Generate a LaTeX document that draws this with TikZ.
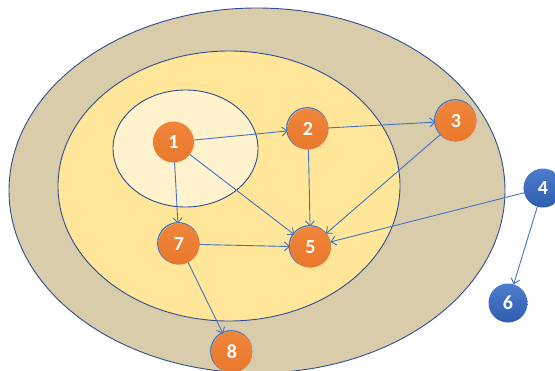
\documentclass[tikz,border=0pt]{standalone}
\usepackage{fontspec}
\setmainfont{Carlito}
\usetikzlibrary{arrows.meta}
\definecolor{outerfill}{HTML}{D9CCAB}
\definecolor{midfill}{HTML}{FFE699}
\definecolor{innerfill}{HTML}{FFF2CC}
\definecolor{rim}{HTML}{2F4D8F}
\definecolor{edgeblue}{HTML}{4472C4}
\definecolor{orangeA}{HTML}{F08539}
\definecolor{orangeB}{HTML}{E8782C}
\definecolor{blueA}{HTML}{4D7DD0}
\definecolor{blueB}{HTML}{2F5DAE}
\tikzset{
  region/.style={draw=rim, line width=0.9pt},
  basenode/.style={circle, minimum size=41pt, inner sep=0pt, outer sep=0pt,
    text=white, font=\fontsize{20}{20}\selectfont\bfseries},
  orangenode/.style={basenode, top color=orangeA, bottom color=orangeB},
  rimmed/.style={orangenode, preaction={draw=edgeblue, line width=1.2pt, transform canvas={shift={(-0.8pt,0.8pt)}}}},
  bluenode/.style={basenode, minimum size=39pt, top color=blueA, bottom color=blueB},
  link/.style={draw=edgeblue, line width=0.9pt, -{Straight Barb[length=5pt,width=9pt]}}
}
\begin{document}
\begin{tikzpicture}[x=1pt,y=-1pt]
\useasboundingbox (0,0) rectangle (555,370);
\filldraw[region, fill=outerfill] (257,190.5) ellipse [x radius=248, y radius=182.5];
\filldraw[region, fill=midfill] (229,186) ellipse [x radius=171, y radius=135];
\filldraw[region, fill=innerfill] (185.5,148.5) ellipse [x radius=72.5, y radius=58.5];
\node[orangenode] (n1) at (173.5,142) {1};
\node[rimmed] (n2) at (308,129) {2};
\node[rimmed] (n3) at (456,121) {3};
\node[bluenode] (n4) at (543,188) {4};
\node[rimmed] (n5) at (310.5,247) {5};
\node[bluenode] (n6) at (508,303) {6};
\node[rimmed] (n7) at (179,244) {7};
\node[rimmed] (n8) at (232,352) {8};
\draw[link] (n1) -- (n2);
\draw[link] (n2) -- (n3);
\draw[link] (n1) -- (n7);
\draw[link] (n1) -- (n5);
\draw[link] (n2) -- (n5);
\draw[link] (n3) -- (n5);
\draw[link] (n4) -- (n5);
\draw[link] (n4) -- (n6);
\draw[link] (n7) -- (n5);
\draw[link] (n7) -- (n8);
\end{tikzpicture}
\end{document}
